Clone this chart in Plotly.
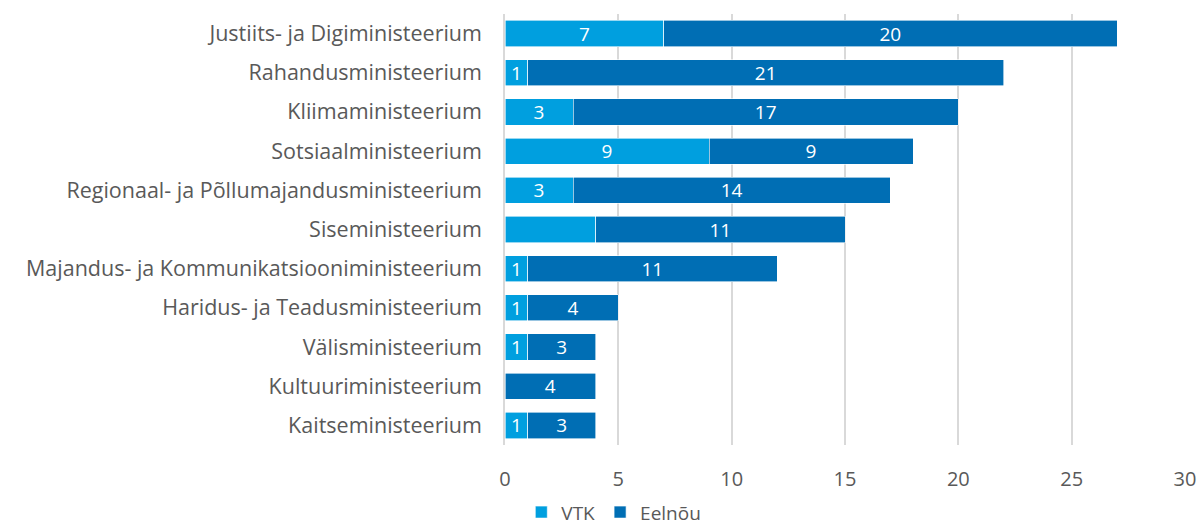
import plotly.graph_objects as go

categories = [
    "Justiits- ja Digiministeerium",
    "Rahandusministeerium",
    "Kliimaministeerium",
    "Sotsiaalministeerium",
    "Regionaal- ja Põllumajandusministeerium",
    "Siseministeerium",
    "Majandus- ja Kommunikatsiooniministeerium",
    "Haridus- ja Teadusministeerium",
    "Välisministeerium",
    "Kultuuriministeerium",
    "Kaitseministeerium",
]
vtk = [7, 1, 3, 9, 3, 4, 1, 1, 1, 0, 1]
vtk_labels = ["7", "1", "3", "9", "3", "", "1", "1", "1", "", "1"]
eelnou = [20, 21, 17, 9, 14, 11, 11, 4, 3, 4, 3]
x_ticks = [0, 5, 10, 15, 20, 25, 30]

FONT = "'Open Sans', 'Noto Sans', sans-serif"

fig = go.Figure()
fig.add_trace(go.Bar(
    y=categories, x=vtk, orientation="h", name="VTK",
    marker=dict(color="#009FDF", line=dict(color="white", width=0.6)),
    text=vtk_labels, textposition="inside", insidetextanchor="middle",
    textangle=0, constraintext="none",
    textfont=dict(color="white", size=19, family=FONT),
))
fig.add_trace(go.Bar(
    y=categories, x=eelnou, orientation="h", name="Eelnõu",
    marker=dict(color="#006EB4", line=dict(color="white", width=0.6)),
    text=[str(v) for v in eelnou], textposition="inside", insidetextanchor="middle",
    textangle=0, constraintext="none",
    textfont=dict(color="white", size=19, family=FONT),
))

fig.update_layout(
    barmode="stack",
    bargap=0.33,
    width=1202, height=524,
    margin=dict(l=505, r=17, t=14, b=79, autoexpand=False),
    paper_bgcolor="white", plot_bgcolor="white",
    font=dict(family=FONT, color="#595959", size=18),
    showlegend=True,
    legend=dict(orientation="h", traceorder="normal",
                x=0.16, y=-0.156, xanchor="center", yanchor="middle",
                font=dict(size=19, color="#595959"),
                itemwidth=30, tracegroupgap=0),
    xaxis=dict(range=[0, 30], tickvals=x_ticks, showgrid=True,
               gridcolor="#D9D9D9", gridwidth=1.5, zeroline=False,
               ticks="", ticklabelstandoff=20,
               tickfont=dict(size=20, color="#595959")),
    yaxis=dict(categoryorder="array", categoryarray=categories[::-1],
               showline=True, linecolor="#D9D9D9", linewidth=1.5,
               ticks="", ticklabelstandoff=17,
               tickfont=dict(size=21.5, color="#595959")),
)

fig.write_html("out.html")
